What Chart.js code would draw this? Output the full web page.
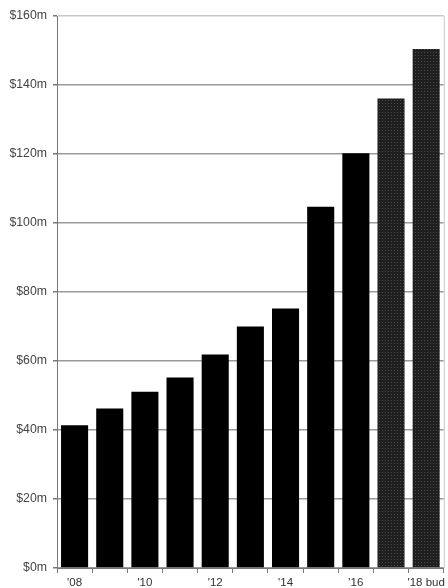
<!DOCTYPE html>
<html>
<head>
<meta charset="utf-8">
<script src="https://cdn.jsdelivr.net/npm/chart.js@4"></script>
<style>
  html, body { margin: 0; padding: 0; background: #fff; }
  #wrap { width: 448px; height: 588px; }
</style>
</head>
<body>
<div id="wrap"><canvas id="myChart" width="448" height="588"></canvas></div>
<script>
// years, '17 and '18 are budget figures
const anos = ["'08", "'09", "'10", "'11", "'12", "'13", "'14", "'15", "'16", "'17", "'18 bud"];
const valores = [41.4, 46.2, 51.1, 55.2, 61.9, 70.0, 75.2, 104.7, 120.2, 136.1, 150.4];
const orcamento = [false, false, false, false, false, false, false, false, false, true, true];
const yTicks = [0, 20, 40, 60, 80, 100, 120, 140, 160];

// dotted fill for the budget bars
function criarPadrao() {
    const c = document.createElement('canvas');
    c.width = 3;
    c.height = 3;
    const p = c.getContext('2d');
    p.fillStyle = '#1f1f1f';
    p.fillRect(0, 0, 3, 3);
    p.fillStyle = '#4a4a4a';
    p.fillRect(1, 1, 1, 1);
    return p.createPattern(c, 'repeat');
}

const ctx = document.getElementById('myChart');
const padrao = criarPadrao();

const bordaDireita = {
    id: 'bordaDireita',
    afterDraw(chart) {
        const a = chart.chartArea;
        const g = chart.ctx;
        g.save();
        g.strokeStyle = '#c8c8c8';
        g.lineWidth = 1;
        g.beginPath();
        g.moveTo(a.right + 0.5, a.top);
        g.lineTo(a.right + 0.5, a.bottom);
        g.stroke();
        g.restore();
    }
};

const myChart = new Chart(ctx, {
    type: 'bar',
    data: {
        labels: anos,
        datasets: [{
            data: valores,
            backgroundColor: orcamento.map(b => b ? padrao : '#000'),
            borderWidth: 0,
            categoryPercentage: 1,
            barPercentage: 0.77
        }]
    },
    options: {
        responsive: false,
        animation: false,
        layout: { padding: { top: 16, right: 3, left: 0, bottom: 0 } },
        plugins: { legend: { display: false }, tooltip: { enabled: false } },
        scales: {
            x: {
                grid: { display: true, drawOnChartArea: false, drawTicks: true, tickLength: 5, color: '#777', offset: true },
                border: { color: '#777', width: 1 },
                ticks: {
                    autoSkip: false,
                    maxRotation: 0,
                    padding: 3,
                    color: '#333',
                    font: { family: 'Liberation Sans, Arial', size: 11.5 },
                    callback: function (v, i) { return i % 2 === 0 ? anos[i] : ''; }
                },
                afterFit: function (s) { s.height = 20; }
            },
            y: {
                min: 0,
                max: 160,
                afterBuildTicks: function (s) { s.ticks = yTicks.map(v => ({ value: v })); },
                grid: {
                    color: function (c) { return c.tick && c.tick.value === 160 ? '#c8c8c8' : '#9a9a9a'; },
                    tickColor: '#777',
                    tickLength: 4,
                    lineWidth: 1.5
                },
                border: { color: '#777', width: 1 },
                ticks: {
                    padding: 6,
                    color: '#444',
                    font: { family: 'Liberation Sans, Arial', size: 12.3 },
                    callback: function (v) { return '$' + v + 'm'; }
                },
                afterFit: function (s) { s.width = 57; }
            }
        }
    },
    plugins: [bordaDireita]
});
</script>
</body>
</html>
